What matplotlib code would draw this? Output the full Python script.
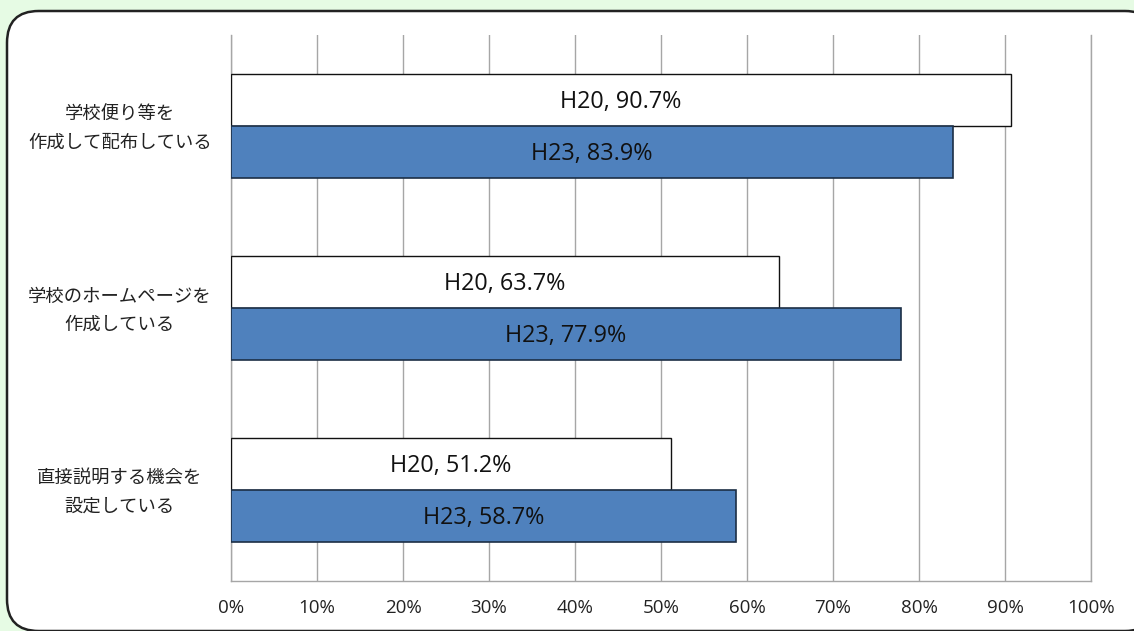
import numpy as np
import matplotlib.pyplot as plt
from matplotlib.patches import FancyBboxPatch
from matplotlib.transforms import ScaledTranslation

plt.rcParams['font.family'] = ['Open Sans', 'Noto Sans CJK JP', 'DejaVu Sans']

categories = ["学校便り等を\n作成して配布している",
              "学校のホームページを\n作成している",
              "直接説明する機会を\n設定している"]
h20 = [90.7, 63.7, 51.2]
h23 = [83.9, 77.9, 58.7]
xticks = [0, 10, 20, 30, 40, 50, 60, 70, 80, 90, 100]

fig = plt.figure(figsize=(11.34, 6.31), dpi=100)
fig.patch.set_facecolor('#e6fbe4')

# rounded white panel behind the chart
panel = FancyBboxPatch((7/1134, 0.0), 1127/1134 + 0.02, 620/631,
                       boxstyle="round,pad=0,rounding_size=0.028",
                       transform=fig.transFigure, facecolor='white',
                       edgecolor='#222222', linewidth=1.8, mutation_aspect=1134/631,
                       zorder=-5)
fig.patches.append(panel)

ax = fig.add_axes([231/1134, 1 - 581/631, 860/1134, 546/631])
ax.set_facecolor('none')

y = np.arange(len(categories))
bh = 0.286
ax.barh(y - bh/2, h20, height=bh, color='white', edgecolor='#111111', linewidth=1.0, zorder=3)
ax.barh(y + bh/2, h23, height=bh, color='#4f81bd', edgecolor='#1c2f45', linewidth=1.2, zorder=3)

down = ScaledTranslation(0, -2/100, fig.dpi_scale_trans)
for i in range(len(categories)):
    t1 = ax.text(h20[i] / 2, y[i] - bh/2, f"H20, {h20[i]}%", ha='center', va='center',
                 fontsize=16.8, color='#111111', zorder=4)
    t2 = ax.text(h23[i] / 2, y[i] + bh/2, f"H23, {h23[i]}%", ha='center', va='center',
                 fontsize=16.8, color='#111111', zorder=4)
    t1.set_transform(ax.transData + down)
    t2.set_transform(ax.transData + down)

ax.set_xlim(0, 100)
ax.set_ylim(2.5, -0.5)
ax.set_xticks(xticks)
ax.set_xticklabels([f"{v}%" for v in xticks], fontsize=13.5, color='#222222')
ax.tick_params(axis='x', length=0, pad=13)
ax.set_yticks(y)
ax.set_yticklabels(categories, fontsize=13.2, color='#222222', ha='center',
                   family=['Noto Sans CJK JP'], linespacing=1.68)
ax.tick_params(axis='y', length=0, pad=80)
up = ScaledTranslation(0, 4/100, fig.dpi_scale_trans)
for lab in ax.get_yticklabels():
    lab.set_transform(lab.get_transform() + up)
ax.grid(axis='x', color='#a6a6a6', linewidth=1.0, zorder=0)
ax.set_axisbelow(True)
for side in ['top']:
    ax.spines[side].set_visible(False)
for side in ['left', 'right', 'bottom']:
    ax.spines[side].set_color('#a6a6a6')
    ax.spines[side].set_linewidth(1.0)

fig.savefig('out.png', dpi=100, facecolor=fig.get_facecolor())
